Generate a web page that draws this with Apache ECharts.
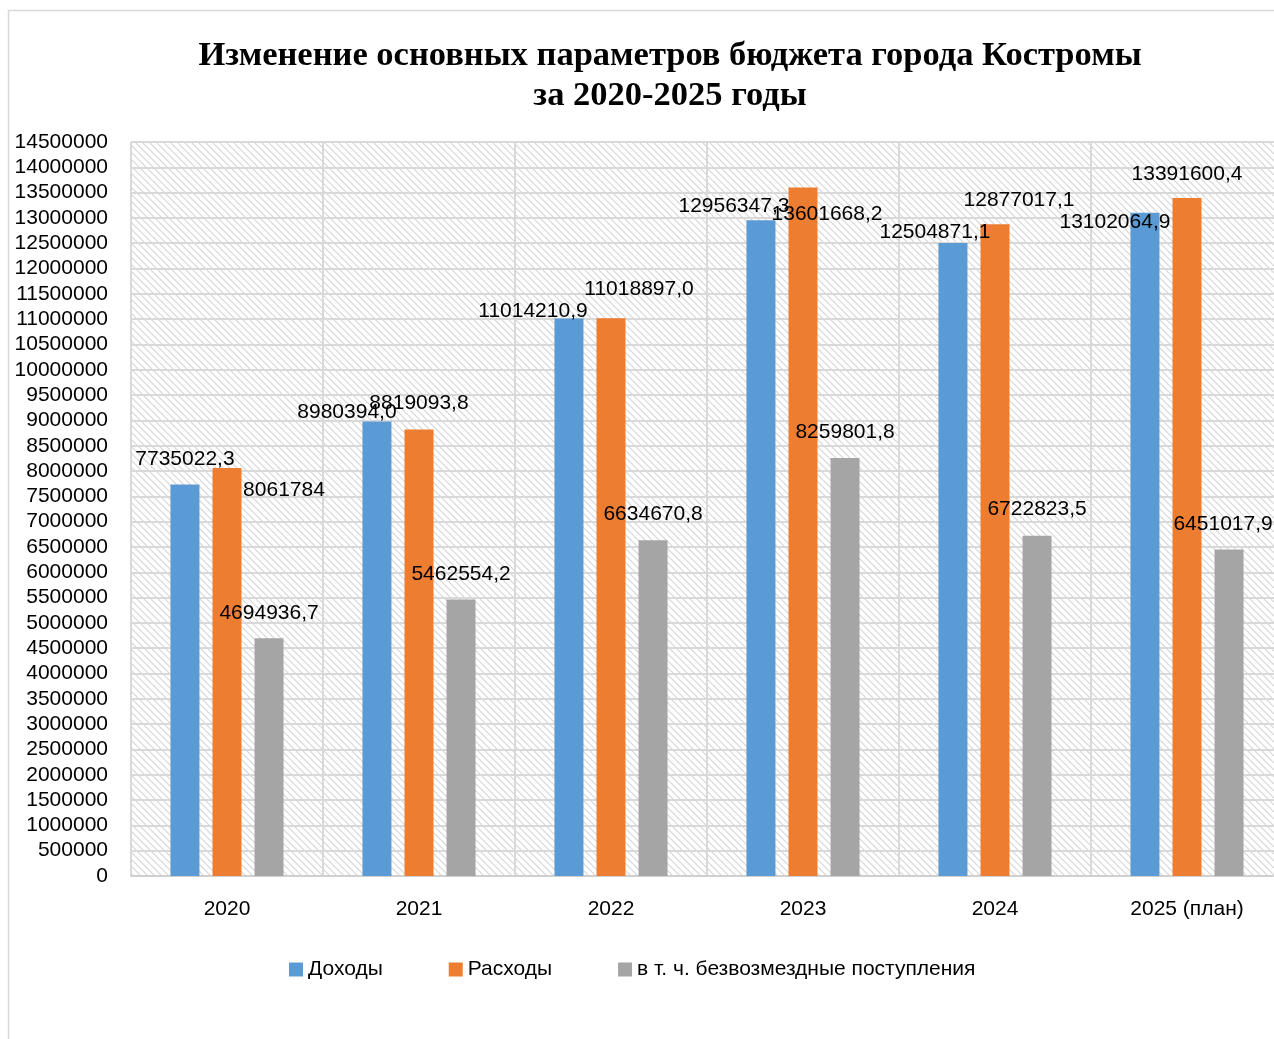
<!DOCTYPE html>
<html>
<head>
<meta charset="utf-8">
<script src="https://cdn.jsdelivr.net/npm/echarts@6/dist/echarts.min.js"></script>
<style>
  html, body { margin: 0; padding: 0; background: #fff; overflow: hidden; }
  #main { width: 1283px; height: 1039px; }
</style>
</head>
<body>
<div id="main"></div>
<script>
// данные
const years = ['2020', '2021', '2022', '2023', '2024', '2025 (план)']
const incomeText = ['7735022,3', '8980394,0', '11014210,9', '12956347,3', '12504871,1', '13102064,9']
const expenseText = ['8061784', '8819093,8', '11018897,0', '13601668,2', '12877017,1', '13391600,4']
const grantsText = ['4694936,7', '5462554,2', '6634670,8', '8259801,8', '6722823,5', '6451017,9']

// смещения подписей (как в исходной диаграмме), [dx, dy от верха столбца]
const incomeLabelPos = [[0, -25], [-30, -9], [-36, -7], [-27, -14], [-18, -11], [-30, 9]]
const expenseLabelPos = [[57, 22], [0, -26], [28, -29], [24, 27], [24, -24], [0, -24]]
const grantsLabelPos = [[0, -25], [0, -25], [0, -26], [0, -26], [0, -26], [-6, -25]]

const toNum = s => Number(s.replace(',', '.'))

// штриховка фона
function hatch() {
  const c = document.createElement('canvas')
  const n = 7
  c.width = n
  c.height = n
  const ctx = c.getContext('2d')
  ctx.fillStyle = '#ffffff'
  ctx.fillRect(0, 0, n, n)
  ctx.strokeStyle = '#d6d6d6'
  ctx.lineWidth = 1.2
  ctx.beginPath()
  ctx.moveTo(-1, -1); ctx.lineTo(n + 1, n + 1)
  ctx.moveTo(-1, n - 1); ctx.lineTo(1, n + 1)
  ctx.moveTo(n - 1, -1); ctx.lineTo(n + 1, 1)
  ctx.stroke()
  return c
}

function makeData(texts, pos) {
  return texts.map((t, i) => ({
    value: toNum(t),
    label: {
      formatter: t,
      position: ['50%', pos[i][1]],
      offset: [pos[i][0], 0]
    }
  }))
}

const font = 'Liberation Sans'
const fs = 21
const labelStyle = {
  show: true,
  align: 'center',
  verticalAlign: 'middle',
  fontFamily: font,
  fontSize: fs,
  color: '#000'
}

const chart = echarts.init(document.getElementById('main'))
chart.setOption({
  animation: false,
  graphic: [
    {
      type: 'rect', z: -10, silent: true,
      shape: { x: 8.5, y: 10.5, width: 1400, height: 1200 },
      style: { fill: '#fff', stroke: '#d9d9d9', lineWidth: 1.5 }
    },
    {
      type: 'text', silent: true,
      x: 670, y: 36,
      style: {
        text: 'Изменение основных параметров бюджета города Костромы\nза 2020-2025 годы',
        font: 'bold 34.5px "Liberation Serif"',
        fill: '#000',
        align: 'center',
        lineHeight: 40
      }
    }
  ],
  grid: {
    left: 131, right: 0, top: 142, bottom: 163,
    show: true,
    backgroundColor: { image: hatch(), repeat: 'repeat' },
    borderWidth: 0
  },
  legend: {
    top: 954,
    left: 284,
    icon: 'rect',
    itemWidth: 14,
    itemHeight: 14,
    itemGap: 66,
    textStyle: { fontFamily: font, fontSize: fs, color: '#000' },
    data: ['Доходы', 'Расходы', 'в т. ч. безвозмездные поступления']
  },
  xAxis: {
    type: 'category',
    data: years,
    axisTick: { show: false },
    axisLine: { lineStyle: { color: '#d0d0d0', width: 2 } },
    axisLabel: { fontFamily: font, fontSize: fs, color: '#000', margin: 23 },
    splitLine: { show: true, lineStyle: { color: '#d9d9d9', width: 2 } }
  },
  yAxis: {
    type: 'value',
    min: 0,
    max: 14500000,
    interval: 500000,
    axisLine: { show: false },
    axisTick: { show: false },
    axisLabel: { fontFamily: font, fontSize: fs, color: '#000', margin: 23, formatter: v => String(v) },
    splitLine: { lineStyle: { color: '#d9d9d9', width: 2 } }
  },
  series: [
    {
      name: 'Доходы', type: 'bar',
      barWidth: 29, barGap: '45%',
      itemStyle: { color: '#5b9bd5' },
      label: labelStyle,
      data: makeData(incomeText, incomeLabelPos)
    },
    {
      name: 'Расходы', type: 'bar',
      barWidth: 29, barGap: '45%',
      itemStyle: { color: '#ed7d31' },
      label: labelStyle,
      data: makeData(expenseText, expenseLabelPos)
    },
    {
      name: 'в т. ч. безвозмездные поступления', type: 'bar',
      barWidth: 29, barGap: '45%',
      itemStyle: { color: '#a5a5a5' },
      label: labelStyle,
      data: makeData(grantsText, grantsLabelPos)
    }
  ]
})
</script>
</body>
</html>
